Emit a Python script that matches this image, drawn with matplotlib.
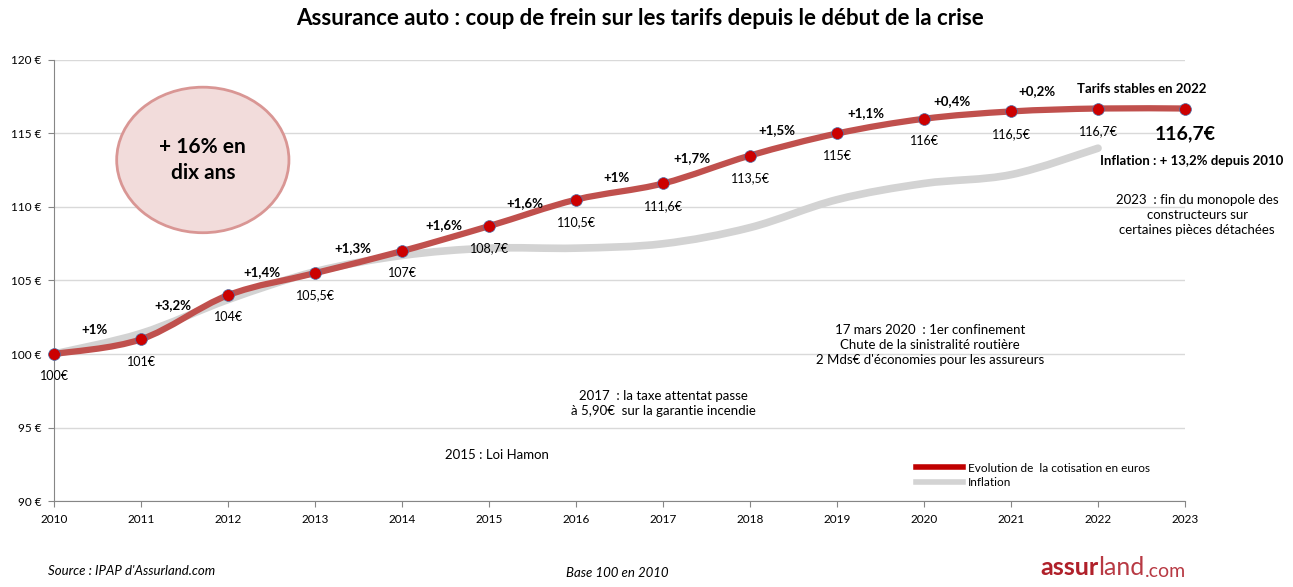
import numpy as np
import matplotlib.pyplot as plt
from matplotlib.path import Path
from matplotlib.patches import PathPatch, Ellipse
from matplotlib.lines import Line2D

plt.rcParams['font.family'] = ['Lato', 'DejaVu Sans']

annees = np.arange(2010, 2024)
cotisation = [100, 101, 104, 105.5, 107, 108.7, 110.5, 111.6, 113.5, 115, 116, 116.5, 116.7, 116.7]
annees_infl = np.arange(2010, 2023)
inflation = [100, 101.4, 103.7, 105.6, 106.7, 107.2, 107.2, 107.5, 108.6, 110.5, 111.6, 112.2, 114.0]

valeurs_txt = ["100€", "101€", "104€", "105,5€", "107€", "108,7€", "110,5€", "111,6€",
               "113,5€", "115€", "116€", "116,5€", "116,7€"]
hausses = ["+1%", "+3,2%", "+1,4%", "+1,3%", "+1,6%", "+1,6%", "+1%", "+1,7%",
           "+1,5%", "+1,1%", "+0,4%", "+0,2%"]
hausses_pos = [(2010.47, 101.6), (2011.37, 103.3), (2012.39, 105.6), (2013.43, 107.2),
               (2014.48, 108.8), (2015.41, 110.3), (2016.46, 112.0), (2017.33, 113.3),
               (2018.31, 115.2), (2019.33, 116.4), (2020.32, 117.2), (2021.30, 117.9)]

ROUGE = '#C0504D'
GRIS = '#D3D3D3'


def courbe_lissee(x, y):
    # bezier facon "lissage" Excel (catmull-rom)
    p = np.column_stack([x, y]).astype(float)
    n = len(p)
    verts = [p[0]]
    codes = [Path.MOVETO]
    for i in range(n - 1):
        p0 = p[i - 1] if i > 0 else p[i]
        p3 = p[i + 2] if i + 2 < n else p[i + 1]
        c1 = p[i] + (p[i + 1] - p0) / 6
        c2 = p[i + 1] - (p3 - p[i]) / 6
        verts += [c1, c2, p[i + 1]]
        codes += [Path.CURVE4] * 3
    return Path(verts, codes)


fig = plt.figure(figsize=(12.93, 5.87), dpi=100)
ax = fig.add_axes([0.0418, 0.1465, 0.8747, 0.7513])

ax.add_patch(PathPatch(courbe_lissee(annees_infl, inflation), fill=False,
                       edgecolor=GRIS, lw=5.5, capstyle='round', zorder=2))
ax.add_patch(PathPatch(courbe_lissee(annees, cotisation), fill=False,
                       edgecolor=ROUGE, lw=4.5, capstyle='round', zorder=3))
ax.plot(annees, cotisation, 'o', color='#CC0000', ms=8.5, mec='#4F6FA8', mew=0.5,
        zorder=4, clip_on=False)

ax.set_xlim(2010, 2023)
ax.set_ylim(90, 120)
ax.set_xticks(annees)
ax.set_xticklabels([str(a) for a in annees], fontsize=8.5)
ax.set_yticks(np.arange(90, 121, 5))
ax.set_yticklabels([f"{v} €" for v in range(90, 121, 5)], fontsize=8.5)
ax.grid(axis='y', color='#D9D9D9', lw=1)
ax.set_axisbelow(True)
for s in ['top', 'right']:
    ax.spines[s].set_visible(False)
for s in ['left', 'bottom']:
    ax.spines[s].set_color('#868686')
ax.tick_params(color='#868686', length=4, pad=5)

for a, v, t in zip(annees, cotisation, valeurs_txt):
    ax.annotate(t, (a, v), xytext=(0, -16), textcoords='offset points',
                ha='center', va='center', fontsize=9)
for t, (x, y) in zip(hausses, hausses_pos):
    ax.text(x, y, t, ha='center', va='center', fontsize=9.5, fontweight='bold')

ax.text(2022.5, 118.0, "Tarifs stables en 2022", ha='center', va='center', fontsize=9.5,
        fontweight='bold')
ax.text(2023.0, 115.0, "116,7€", ha='center', va='center', fontsize=14, fontweight='bold',
        clip_on=False)
ax.text(2023.08, 113.1, "Inflation : + 13,2% depuis 2010", ha='center', va='center',
        fontsize=9.5, fontweight='bold')
ax.text(2023.14, 109.45, "2023  : fin du monopole des\nconstructeurs sur\ncertaines pièces détachées",
        ha='center', va='center', fontsize=9.5, linespacing=1.3)
ax.text(2020.07, 100.6, "17 mars 2020  : 1er confinement\nChute de la sinistralité routière\n"
        "2 Mds€ d'économies pour les assureurs", ha='center', va='center', fontsize=9.5,
        linespacing=1.3)
ax.text(2017.0, 96.6, "2017  : la taxe attentat passe\nà 5,90€  sur la garantie incendie",
        ha='center', va='center', fontsize=9.5, linespacing=1.3)
ax.text(2015.09, 93.1, "2015 : Loi Hamon", ha='center', va='center', fontsize=9.5)

ax.add_patch(Ellipse((2011.71, 113.2), 1.98, 9.9, facecolor='#F2DCDB',
                     edgecolor='#D99694', lw=2, zorder=1))
ax.text(2011.71, 113.2, "+ 16% en\ndix ans", ha='center', va='center', fontsize=15,
        fontweight='bold', linespacing=1.35, zorder=2)

poignees = [Line2D([], [], color='#C00000', lw=4), Line2D([], [], color=GRIS, lw=4)]
ax.legend(poignees, ["Evolution de  la cotisation en euros", "Inflation"],
          loc='upper left', bbox_to_anchor=(0.758, 0.098), frameon=False, fontsize=8.5,
          handlelength=4.0, handletextpad=0.4, labelspacing=0.3, borderaxespad=0)

fig.text(0.495, 0.968, "Assurance auto : coup de frein sur les tarifs depuis le début de la crise",
         ha='center', va='center', fontsize=16, fontweight='bold')
fig.text(0.037, 0.027, "Source : IPAP d'Assurland.com", ha='left', va='center',
         fontsize=9.5, style='italic')
fig.text(0.477, 0.024, "Base 100 en 2010", ha='center', va='center', fontsize=9.5, style='italic')

# logo texte assurland.com
rend = fig.canvas.get_renderer()
t1 = fig.text(1040 / 1293, 0.033, "assur", ha='left', va='center', fontsize=18,
              fontweight='bold', color='#B0202A')
bb = t1.get_window_extent(rend)
t2 = fig.text(bb.x1 / fig.bbox.width, 0.033, "land", ha='left', va='center', fontsize=18,
              color='#B83A44')
bb = t2.get_window_extent(rend)
fig.text(bb.x1 / fig.bbox.width, 0.027, ".com", ha='left', va='center', fontsize=14,
         color='#B83A44')

fig.savefig("out.png", dpi=100)
